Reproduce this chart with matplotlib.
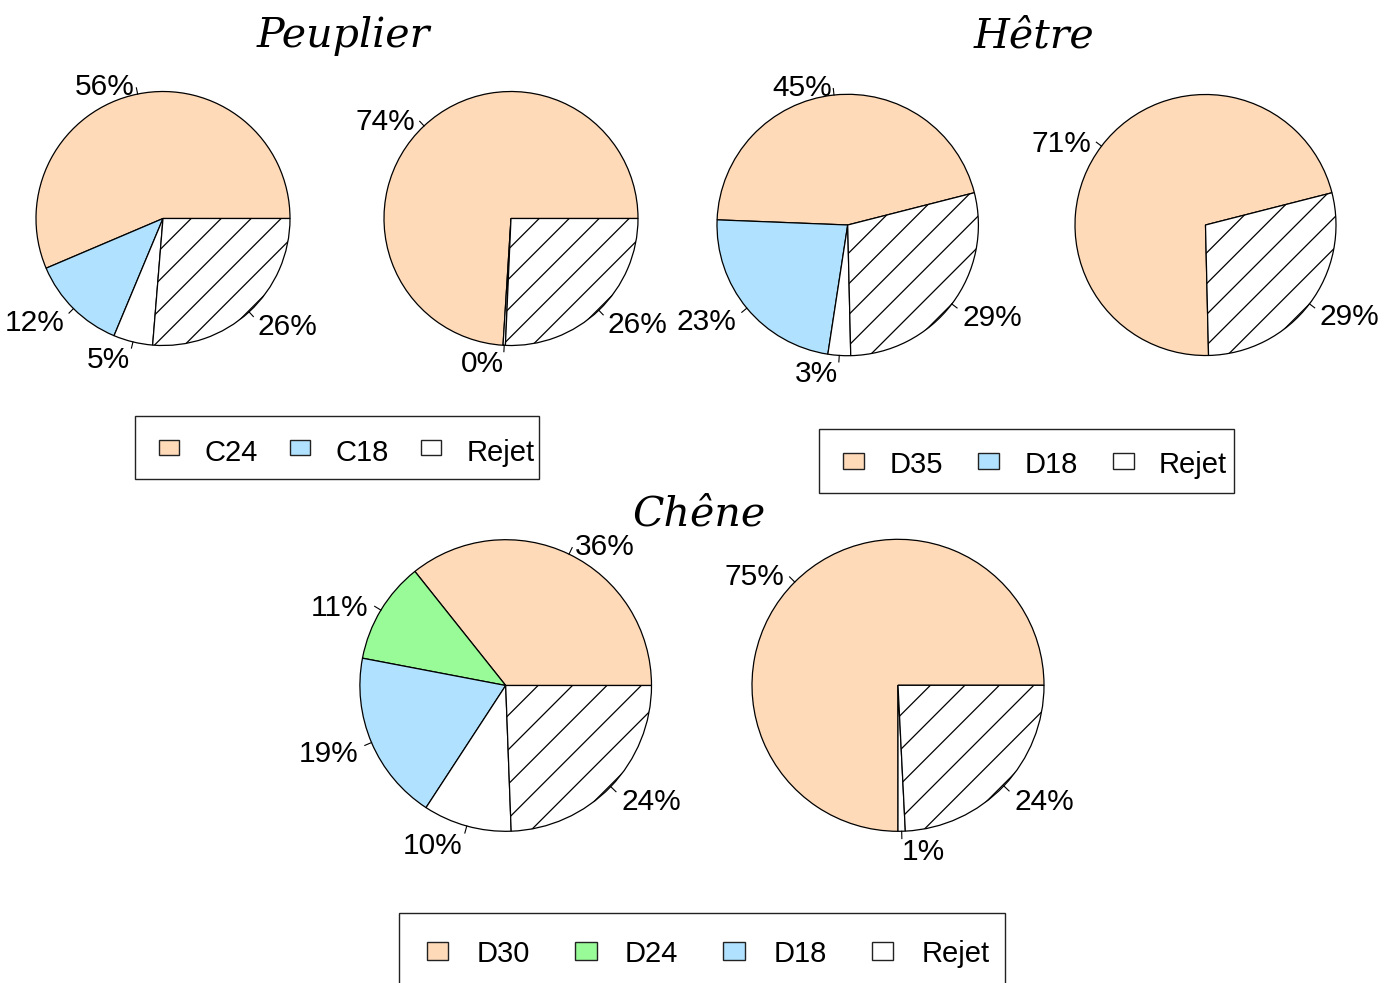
import matplotlib
matplotlib.use("Agg")
import matplotlib.pyplot as plt
from matplotlib.patches import Rectangle
import numpy as np

# ---------------- data ----------------
titles = ["Peuplier", "Hêtre", "Chêne"]

peuplier_cats = ["C24", "C18", "Rejet"]
hetre_cats = ["D35", "D18", "Rejet"]
chene_cats = ["D30", "D24", "D18", "Rejet"]

# slice values (percent) and the category of each slice ("hatch" = hatched slice)
peuplier_1 = [56.4, 12.3, 5.0, 26.3]
peuplier_1_kind = ["C24", "C18", "Rejet", "hatch"]
peuplier_2 = [74.0, 0.3, 25.7]
peuplier_2_kind = ["C24", "Rejet", "hatch"]

hetre_1 = [45.4, 23.2, 2.8, 28.6]
hetre_1_kind = ["D35", "D18", "Rejet", "hatch"]
hetre_2 = [71.4, 28.6]
hetre_2_kind = ["D35", "hatch"]

chene_1 = [35.7, 11.3, 18.8, 9.8, 24.4]
chene_1_kind = ["D30", "D24", "D18", "Rejet", "hatch"]
chene_2 = [75.0, 0.8, 24.2]
chene_2_kind = ["D30", "Rejet", "hatch"]

# ---------------- style ----------------
PEACH = "#FFDAB9"
BLUE = "#B0E2FF"
GREEN = "#98FB98"
colors = {"C24": PEACH, "C18": BLUE, "D35": PEACH, "D30": PEACH,
          "D24": GREEN, "D18": BLUE, "Rejet": "white", "hatch": "white"}

W, H = 1396, 983
fig = plt.figure(figsize=(W / 100, H / 100), dpi=100)
ax = fig.add_axes([0, 0, 1, 1])

SANS = ["Liberation Sans", "DejaVu Sans"]
LABEL_FS = 21.5
LEG_FS = 21


def Y(y):
    return H - y


def draw_pie(values, kinds, cx, cy, r, start):
    cxy = (cx, Y(cy))
    wedges, _ = ax.pie(values, colors=[colors[k] for k in kinds],
                       startangle=start, counterclock=True,
                       center=cxy, radius=r, normalize=True,
                       wedgeprops=dict(edgecolor="black", linewidth=0.9))
    total = float(sum(values))
    # hatching
    s = 0.236 * r
    off = -0.06 * s
    for w, k in zip(wedges, kinds):
        if k != "hatch":
            continue
        for j in range(-12, 13):
            x0 = cxy[0] + off + j * s
            ln, = ax.plot([x0 - 2 * r, x0 + 2 * r],
                          [cxy[1] - 2 * r, cxy[1] + 2 * r],
                          color="black", lw=0.9, zorder=3,
                          solid_capstyle="butt")
            ln.set_clip_path(w)
    # labels R style
    cum = 0.0
    for v in values:
        mid = np.deg2rad(start + 360.0 * (cum + v / 2) / total)
        cum += v
        c, sn = np.cos(mid), np.sin(mid)
        ax.plot([cxy[0] + r * c, cxy[0] + 1.05 * r * c],
                [cxy[1] + r * sn, cxy[1] + 1.05 * r * sn],
                color="black", lw=0.8, zorder=3)
        tx = cxy[0] + 1.1 * r * c
        ty = cxy[1] + 1.1 * r * sn - 13.7
        pct = round(100.0 * v / total)
        ax.text(tx, ty, f"{pct}%", ha="left" if c >= 0 else "right",
                va="baseline", fontsize=LABEL_FS, family=SANS, color="black")


def draw_legend(cats, box, mx0, step, mw, mh, my, toff, base):
    x0, y0, x1, y1 = box
    ax.add_patch(Rectangle((x0, Y(y1)), x1 - x0, y1 - y0, fill=False,
                           edgecolor="#222222", lw=1.0, clip_on=False))
    for i, cat in enumerate(cats):
        mx = mx0 + i * step
        ax.add_patch(Rectangle((mx, Y(my + mh / 2)), mw, mh,
                               facecolor=colors[cat], edgecolor="#222222", lw=1.0))
        ax.text(mx + toff, Y(base), cat, ha="left", va="baseline",
                fontsize=LEG_FS, family=SANS, color="black")


# Peuplier
draw_pie(peuplier_1, peuplier_1_kind, 163, 218.5, 127, 0)
draw_pie(peuplier_2, peuplier_2_kind, 511, 218.5, 127, 0)
# Hêtre
draw_pie(hetre_1, hetre_1_kind, 847.7, 225, 130.7, 14.3)
draw_pie(hetre_2, hetre_2_kind, 1205.5, 225, 130.5, 14.3)
# Chêne
draw_pie(chene_1, chene_1_kind, 505.7, 685.5, 145.8, 0)
draw_pie(chene_2, chene_2_kind, 898, 685.3, 146, 0)

# titles
TFS = 29.6
ax.text(343.3, Y(47), titles[0], ha="center", va="baseline", fontsize=TFS,
        family="DejaVu Serif", style="italic")
ax.text(1034.3, Y(47), titles[1], ha="center", va="baseline", fontsize=TFS,
        family="DejaVu Serif", style="italic")
ax.text(699.2, Y(525), titles[2], ha="center", va="baseline", fontsize=TFS,
        family="DejaVu Serif", style="italic")

# legends
draw_legend(peuplier_cats, (135, 415.5, 539.3, 478.5), 159.3, 131, 20, 15,
            447.5, 45, 460.7)
draw_legend(hetre_cats, (818.5, 428.5, 1234, 492.7), 843.3, 134.9, 20.7, 15.7,
            461.2, 46, 473.3)
draw_legend(chene_cats, (399, 913, 1005, 990), 426.7, 148.3, 21.6, 18,
            950.8, 50, 961.7)

ax.set_xlim(0, W)
ax.set_ylim(0, H)
ax.set_aspect("auto")
ax.axis("off")
fig.savefig("out.png", dpi=100)
